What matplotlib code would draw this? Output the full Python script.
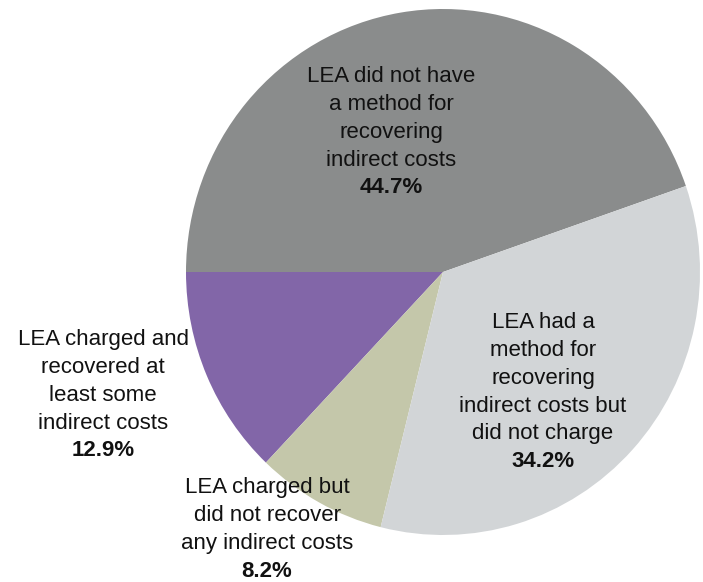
import matplotlib
matplotlib.use("Agg")
import matplotlib.pyplot as plt

plt.rcParams['font.family'] = ['Liberation Sans', 'DejaVu Sans']

# Share of LEAs by indirect cost practice (counterclockwise from upper right)
categories = [
    "LEA did not have\na method for\nrecovering\nindirect costs",
    "LEA charged and\nrecovered at\nleast some\nindirect costs",
    "LEA charged but\ndid not recover\nany indirect costs",
    "LEA had a\nmethod for\nrecovering\nindirect costs but\ndid not charge",
]
shares = [44.7, 12.9, 8.2, 34.2]
colors = ["#8a8c8c", "#8266a8", "#c4c7aa", "#d2d5d7"]

W, H = 703, 582
fig = plt.figure(figsize=(W / 100, H / 100), dpi=100)

# pie axes sized in pixels so the pie is slightly taller than wide
cx, cy, rx, ry = 443, 272, 257, 263
ax = fig.add_axes([(cx - rx) / W, (H - cy - ry) / H, 2 * rx / W, 2 * ry / H])
start = 180 - shares[0] * 3.6
ax.pie(shares, colors=colors, startangle=start, counterclock=True,
       radius=1, frame=True, wedgeprops=dict(linewidth=0))
ax.set_aspect("auto")
ax.set_xlim(-1, 1)
ax.set_ylim(-1, 1)
ax.axis("off")

# label anchor: (center x, first line center y) in pixels from top-left
label_pos = [(391, 77), (103, 340), (267, 488), (543, 323)]
step = 27.7
for cat, val, (lx, ly) in zip(categories, shares, label_pos):
    lines = cat.split("\n")
    for i, line in enumerate(lines):
        fig.text(lx / W, 1 - (ly + i * step) / H, line, ha="center",
                 va="center", fontsize=16, color="#111111")
    fig.text(lx / W, 1 - (ly + len(lines) * step) / H, f"{val:.1f}%",
             ha="center", va="center", fontsize=16, fontweight="bold",
             color="#111111")

fig.savefig("out.png", dpi=100)
